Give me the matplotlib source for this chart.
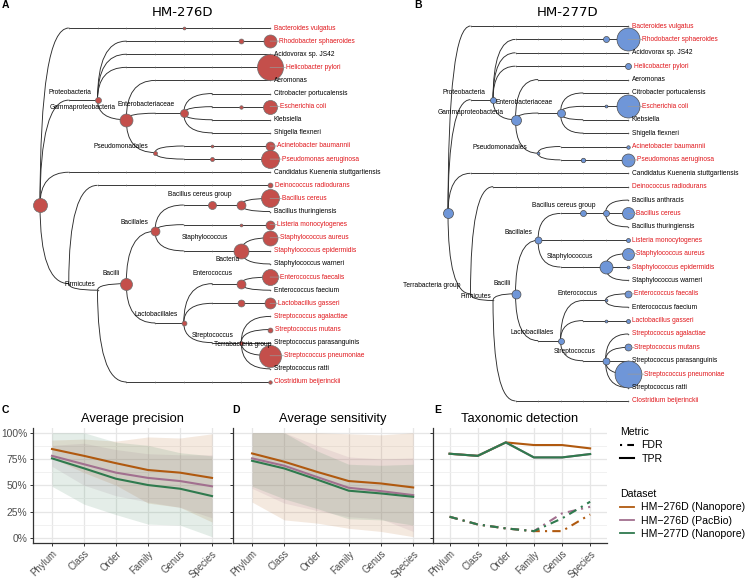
import numpy as np
import matplotlib
matplotlib.use("Agg")
import matplotlib.pyplot as plt
from matplotlib.path import Path
from matplotlib.patches import PathPatch
from matplotlib.lines import Line2D

plt.rcParams['font.family'] = ['Liberation Sans', 'DejaVu Sans']

# ---------------- tree data ----------------
lineage = {
    "Bacteroides vulgatus": ["Bacteria", "FCB group", "Bacteroidetes", "Bacteroidia", "Bacteroidales", "Bacteroidaceae", "Bacteroides", "B. vulgatus"],
    "Rhodobacter sphaeroides": ["Bacteria", "Proteobacteria*", "Proteobacteria", "Alphaproteobacteria", "Rhodobacterales", "Rhodobacteraceae", "Rhodobacter", "R. sphaeroides"],
    "Acidovorax sp. JS42": ["Bacteria", "Proteobacteria*", "Proteobacteria", "Betaproteobacteria", "Burkholderiales", "Comamonadaceae", "Acidovorax", "Acidovorax sp."],
    "Helicobacter pylori": ["Bacteria", "Proteobacteria*", "Proteobacteria", "Epsilonproteobacteria", "Campylobacterales", "Helicobacteraceae", "Helicobacter", "H. pylori"],
    "Aeromonas": ["Bacteria", "Proteobacteria*", "Proteobacteria", "Gammaproteobacteria", "Aeromonadales", "Aeromonadaceae", "Aeromonas*", "Aeromonas**"],
    "Citrobacter portucalensis": ["Bacteria", "Proteobacteria*", "Proteobacteria", "Gammaproteobacteria", "Enterobacterales", "Enterobacteriaceae", "Citrobacter", "C. portucalensis"],
    "Escherichia coli": ["Bacteria", "Proteobacteria*", "Proteobacteria", "Gammaproteobacteria", "Enterobacterales", "Enterobacteriaceae", "Escherichia", "E. coli"],
    "Klebsiella": ["Bacteria", "Proteobacteria*", "Proteobacteria", "Gammaproteobacteria", "Enterobacterales", "Enterobacteriaceae", "Klebsiella*", "Klebsiella**"],
    "Shigella flexneri": ["Bacteria", "Proteobacteria*", "Proteobacteria", "Gammaproteobacteria", "Enterobacterales", "Enterobacteriaceae", "Shigella", "S. flexneri"],
    "Acinetobacter baumannii": ["Bacteria", "Proteobacteria*", "Proteobacteria", "Gammaproteobacteria", "Pseudomonadales", "Moraxellaceae", "Acinetobacter", "A. baumannii"],
    "Pseudomonas aeruginosa": ["Bacteria", "Proteobacteria*", "Proteobacteria", "Gammaproteobacteria", "Pseudomonadales", "Pseudomonadaceae", "Pseudomonas", "P. aeruginosa"],
    "Candidatus Kuenenia stuttgartiensis": ["Bacteria", "PVC group", "Planctomycetes", "Planctomycetia", "Brocadiales", "Brocadiaceae", "Kuenenia", "K. stuttgartiensis"],
    "Deinococcus radiodurans": ["Bacteria", "Terrabacteria group", "Deinococcus-Thermus", "Deinococci", "Deinococcales", "Deinococcaceae", "Deinococcus", "D. radiodurans"],
    "Bacillus anthracis": ["Bacteria", "Terrabacteria group", "Firmicutes", "Bacilli", "Bacillales", "Bacillaceae", "Bacillus", "Bacillus cereus group"],
    "Bacillus cereus": ["Bacteria", "Terrabacteria group", "Firmicutes", "Bacilli", "Bacillales", "Bacillaceae", "Bacillus", "Bacillus cereus group"],
    "Bacillus thuringiensis": ["Bacteria", "Terrabacteria group", "Firmicutes", "Bacilli", "Bacillales", "Bacillaceae", "Bacillus", "Bacillus cereus group"],
    "Listeria monocytogenes": ["Bacteria", "Terrabacteria group", "Firmicutes", "Bacilli", "Bacillales", "Listeriaceae", "Listeria", "L. monocytogenes"],
    "Staphylococcus aureus": ["Bacteria", "Terrabacteria group", "Firmicutes", "Bacilli", "Bacillales", "Staphylococcaceae", "Staphylococcaceae*", "Staphylococcus"],
    "Staphylococcus epidermidis": ["Bacteria", "Terrabacteria group", "Firmicutes", "Bacilli", "Bacillales", "Staphylococcaceae", "Staphylococcaceae*", "Staphylococcus"],
    "Staphylococcus warneri": ["Bacteria", "Terrabacteria group", "Firmicutes", "Bacilli", "Bacillales", "Staphylococcaceae", "Staphylococcaceae*", "Staphylococcus"],
    "Enterococcus faecalis": ["Bacteria", "Terrabacteria group", "Firmicutes", "Bacilli", "Lactobacillales*", "Lactobacillales", "Enterococcaceae", "Enterococcus"],
    "Enterococcus faecium": ["Bacteria", "Terrabacteria group", "Firmicutes", "Bacilli", "Lactobacillales*", "Lactobacillales", "Enterococcaceae", "Enterococcus"],
    "Lactobacillus gasseri": ["Bacteria", "Terrabacteria group", "Firmicutes", "Bacilli", "Lactobacillales*", "Lactobacillales", "Lactobacillus", "L. gasseri"],
    "Streptococcus agalactiae": ["Bacteria", "Terrabacteria group", "Firmicutes", "Bacilli", "Lactobacillales*", "Lactobacillales", "Streptococcaceae", "Streptococcus"],
    "Streptococcus mutans": ["Bacteria", "Terrabacteria group", "Firmicutes", "Bacilli", "Lactobacillales*", "Lactobacillales", "Streptococcaceae", "Streptococcus"],
    "Streptococcus parasanguinis": ["Bacteria", "Terrabacteria group", "Firmicutes", "Bacilli", "Lactobacillales*", "Lactobacillales", "Streptococcaceae", "Streptococcus"],
    "Streptococcus pneumoniae": ["Bacteria", "Terrabacteria group", "Firmicutes", "Bacilli", "Lactobacillales*", "Lactobacillales", "Streptococcaceae", "Streptococcus"],
    "Streptococcus ratti": ["Bacteria", "Terrabacteria group", "Firmicutes", "Bacilli", "Lactobacillales*", "Lactobacillales", "Streptococcaceae", "Streptococcus"],
    "Clostridium beijerinckii": ["Bacteria", "Terrabacteria group", "Firmicutes", "Clostridia", "Clostridiales", "Clostridiaceae", "Clostridium", "C. beijerinckii"],
}

tips_A = ["Bacteroides vulgatus", "Rhodobacter sphaeroides", "Acidovorax sp. JS42", "Helicobacter pylori",
          "Aeromonas", "Citrobacter portucalensis", "Escherichia coli", "Klebsiella", "Shigella flexneri",
          "Acinetobacter baumannii", "Pseudomonas aeruginosa", "Candidatus Kuenenia stuttgartiensis",
          "Deinococcus radiodurans", "Bacillus cereus", "Bacillus thuringiensis", "Listeria monocytogenes",
          "Staphylococcus aureus", "Staphylococcus epidermidis", "Staphylococcus warneri",
          "Enterococcus faecalis", "Enterococcus faecium", "Lactobacillus gasseri",
          "Streptococcus agalactiae", "Streptococcus mutans", "Streptococcus parasanguinis",
          "Streptococcus pneumoniae", "Streptococcus ratti", "Clostridium beijerinckii"]
tips_B = tips_A[:13] + ["Bacillus anthracis"] + tips_A[13:]

in_mock = ["Bacteroides vulgatus", "Rhodobacter sphaeroides", "Helicobacter pylori", "Escherichia coli",
           "Acinetobacter baumannii", "Pseudomonas aeruginosa", "Deinococcus radiodurans", "Bacillus cereus",
           "Listeria monocytogenes", "Staphylococcus aureus", "Staphylococcus epidermidis",
           "Enterococcus faecalis", "Lactobacillus gasseri", "Streptococcus agalactiae",
           "Streptococcus mutans", "Streptococcus pneumoniae", "Clostridium beijerinckii"]

abund_A = {"Bacteria": 49, "Proteobacteria": 9, "Gammaproteobacteria": 42, "Enterobacteriaceae": 16,
           "Pseudomonadales": 4, "R. sphaeroides": 6, "Rhodobacter sphaeroides": 42, "Helicobacter pylori": 169,
           "E. coli": 3, "Escherichia coli": 49, "Acinetobacter": 2, "Acinetobacter baumannii": 20,
           "Pseudomonas": 4, "Pseudomonas aeruginosa": 81, "Bacteroidaceae": 2, "Deinococcus radiodurans": 6,
           "Bacillus": 16, "Bacillus cereus group": 20, "Bacillus cereus": 81, "L. monocytogenes": 2,
           "Listeria monocytogenes": 20, "Bacillales": 20, "Staphylococcus": 56, "Staphylococcus aureus": 56,
           "Bacilli": 36, "Enterococcus": 20, "Enterococcus faecalis": 64, "L. gasseri": 12,
           "Lactobacillus gasseri": 30, "Lactobacillales": 6, "Streptococcus": 4, "Streptococcus mutans": 6,
           "Streptococcus pneumoniae": 121, "Clostridium beijerinckii": 3}
abund_B = {"Bacteria": 25, "Proteobacteria": 9, "Gammaproteobacteria": 25, "Enterobacteriaceae": 16,
           "Pseudomonadales": 2, "R. sphaeroides": 9, "Rhodobacter sphaeroides": 132, "Helicobacter pylori": 9,
           "E. coli": 2, "Escherichia coli": 132, "Acinetobacter baumannii": 3, "Pseudomonas": 5,
           "Pseudomonas aeruginosa": 42, "Bacillus": 9, "Bacillus cereus group": 9, "Bacillus cereus": 36,
           "Listeria monocytogenes": 4, "Bacillales": 12, "Staphylococcus": 42, "Staphylococcus aureus": 36,
           "Staphylococcus epidermidis": 2, "Bacilli": 20, "Enterococcus": 2, "Enterococcus faecalis": 12,
           "L. gasseri": 2, "Lactobacillus gasseri": 4, "Lactobacillales": 9, "Streptococcus": 12,
           "Streptococcus mutans": 12, "Streptococcus pneumoniae": 180}

# internal node labels (offset in pixels from node)
labels_A = {"Proteobacteria": (-28, -8), "Gammaproteobacteria": (-44, -12), "Enterobacteriaceae": (-38, -9),
            "Pseudomonadales": (-34, -6.5), "Bacillus cereus group": (-41, -10), "Bacillales": (-21, -9),
            "Staphylococcus": (-36, -13), "Bacteria": (188, 55), "Bacilli": (-15, -10.5),
            "Enterococcus": (-29, -10), "Firmicutes": (-17.5, -6), "Lactobacillales": (-28, -8),
            "Streptococcus": (-29, -7.5), "Terrabacteria group": (174, 61)}
labels_B = {"Proteobacteria": (-29, -7.6), "Gammaproteobacteria": (-44.5, -7.7), "Enterobacteriaceae": (-36.5, -11),
            "Pseudomonadales": (-38, -6), "Bacillus cereus group": (-41.5, -7.5), "Bacillales": (-20, -8),
            "Staphylococcus": (-35.5, -11), "Terrabacteria group": (-38.5, -8), "Firmicutes": (-17, -3.5),
            "Bacilli": (-13.5, -10), "Enterococcus": (-27.5, -6.5), "Lactobacillales": (-28.5, -7.7),
            "Streptococcus": (-30.5, -9)}

# ---------------- line-plot data ----------------
ranks = ["Phylum", "Class", "Order", "Family", "Genus", "Species"]
datasets = ["HM\u2212276D (Nanopore)", "HM\u2212276D (PacBio)", "HM\u2212277D (Nanopore)"]
colors = ["#B0590F", "#A2708F", "#2F7A4E"]

prec_mean = [[0.845, 0.78, 0.71, 0.645, 0.62, 0.57],
             [0.78, 0.70, 0.62, 0.57, 0.54, 0.49],
             [0.756, 0.661, 0.562, 0.502, 0.467, 0.397]]
prec_lo = [[0.76, 0.62, 0.50, 0.33, 0.29, 0.15],
           [0.68, 0.50, 0.40, 0.34, 0.29, 0.19],
           [0.49, 0.32, 0.22, 0.13, 0.12, 0.01]]
prec_hi = [[0.93, 0.94, 0.92, 0.96, 0.95, 0.99],
           [0.88, 0.90, 0.84, 0.80, 0.79, 0.79],
           [1.00, 1.00, 0.91, 0.88, 0.81, 0.78]]

sens_mean = [[0.803, 0.724, 0.629, 0.54, 0.517, 0.479],
             [0.756, 0.686, 0.58, 0.476, 0.444, 0.406],
             [0.733, 0.66, 0.556, 0.448, 0.422, 0.39]]
sens_lo = [[0.34, 0.17, 0.14, 0.09, 0.06, 0.01],
           [0.47, 0.33, 0.26, 0.20, 0.18, 0.06],
           [0.49, 0.37, 0.28, 0.18, 0.17, 0.12]]
sens_hi = [[1.0, 1.0, 1.0, 0.99, 0.98, 1.0],
           [1.0, 1.0, 0.88, 0.77, 0.75, 0.76],
           [1.0, 1.0, 0.83, 0.70, 0.69, 0.70]]

tpr = [[0.80, 0.78, 0.908, 0.883, 0.883, 0.851],
       [0.80, 0.78, 0.908, 0.765, 0.765, 0.797],
       [0.80, 0.78, 0.908, 0.765, 0.765, 0.797]]
fdr = [[0.20, 0.127, 0.089, 0.063, 0.063, 0.222],
       [0.20, 0.127, 0.089, 0.063, 0.232, 0.295],
       [0.20, 0.127, 0.089, 0.063, 0.184, 0.343]]

# ---------------- figure ----------------
W, H = 749, 581
fig = plt.figure(figsize=(W / 100, H / 100), dpi=100)

TIP_FONT = 4.8


def px_axes(x0, y0, w, h):
    return fig.add_axes([x0 / W, 1 - (y0 + h) / H, w / W, h / H])


def draw_tree(ax, tips, abund, fill, edge, node_labels):
    nodes = {}
    for i, t in enumerate(tips):
        path = lineage[t] + [t]
        for L in range(len(path)):
            nodes.setdefault(tuple(path[:L + 1]), []).append(i)
    pos = {k: (len(k) - 1, float(np.mean(v))) for k, v in nodes.items()}
    # edges
    for k, (xc, yc) in pos.items():
        if len(k) == 1:
            continue
        xp, yp = pos[k[:-1]]
        if abs(yp - yc) < 1e-9:
            verts = [(xp, yp), (xc, yc)]
            codes = [Path.MOVETO, Path.LINETO]
        else:
            verts = [(xp, yp), (xp, yc), (xc, yc)]
            codes = [Path.MOVETO, Path.CURVE3, Path.CURVE3]
        ax.add_patch(PathPatch(Path(verts, codes), fc='none', ec='#2b2b2b', lw=0.65, zorder=1))
    # nodes
    for k, (x, y) in pos.items():
        v = abund.get(k[-1])
        if v is None:
            ax.scatter([x], [y], s=1.2, c='#555555', lw=0, zorder=2)
        else:
            r = np.sqrt(v)
            ax.scatter([x], [y], s=(2 * r * 0.72) ** 2, c=fill, edgecolors=edge, linewidths=0.5, zorder=3)
    # tip labels
    for i, t in enumerate(tips):
        v = abund.get(t)
        r = np.sqrt(v) if v else 1.0
        col = '#E0161B' if t in in_mock else 'black'
        if v and r > 3:
            ax.annotate('', xy=(8, i), xytext=(r + 2.5, 0), textcoords='offset pixels',
                        arrowprops=dict(arrowstyle='-', color='#999999', lw=0.5, shrinkA=0, shrinkB=0), zorder=4)
        ax.annotate(t, xy=(8, i), xytext=(r + 2.5, 0), textcoords='offset pixels',
                    ha='left', va='center', fontsize=TIP_FONT, color=col, zorder=5)
    # internal labels
    for name, (dx, dy) in node_labels.items():
        k = [kk for kk in pos if kk[-1] == name][0]
        ax.annotate(name, xy=pos[k], xytext=(dx, -dy), textcoords='offset pixels',
                    ha='center', va='center', fontsize=TIP_FONT, color='black', zorder=6)
    ax.set_axis_off()


# Tree A
axA = px_axes(0, 0, 375, 400)
axA.set_xlim(-40 / 28.75, (375 - 40) / 28.75)
axA.set_ylim((400 - 28) / 13.11, -28 / 13.11)
draw_tree(axA, tips_A, abund_A, '#C44F4B', '#6e6e6e', labels_A)

# Tree B
axB = px_axes(375, 0, 374, 415)
axB.set_xlim(-73 / 22.5, (374 - 73) / 22.5)
axB.set_ylim((415 - 26) / 13.39, -26 / 13.39)
draw_tree(axB, tips_B, abund_B, '#6F96D8', '#4d4d4d', labels_B)

fig.text(182.5 / W, 1 - 13 / H, "HM-276D", ha='center', va='center', fontsize=9.5, family='DejaVu Sans')
fig.text(568 / W, 1 - 13 / H, "HM-277D", ha='center', va='center', fontsize=9.5, family='DejaVu Sans')

for lab, (x, y) in {"A": (5, 5), "B": (418, 5), "C": (5, 410), "D": (236, 410), "E": (438, 410)}.items():
    fig.text(x / W, 1 - y / H, lab, ha='center', va='center', fontsize=7.5, fontweight='bold')

# ---------------- bottom panels ----------------
xs = np.arange(len(ranks))


def style_axes(ax, show_ylabels):
    ax.set_xlim(-0.6, 5.6)
    ax.set_ylim(-0.05, 1.05)
    ax.set_xticks(xs)
    ax.set_xticklabels(ranks, rotation=45, ha='right', rotation_mode='anchor', fontsize=6.9)
    ax.set_yticks([0, 0.25, 0.5, 0.75, 1.0])
    ax.set_yticks([0.125, 0.375, 0.625, 0.875], minor=True)
    if show_ylabels:
        ax.set_yticklabels(["0%", "25%", "50%", "75%", "100%"])
    else:
        ax.set_yticklabels([])
    ax.grid(which='major', color='#E6E6E6', lw=0.9, zorder=0)
    ax.grid(which='minor', axis='y', color='#EFEFEF', lw=0.6, zorder=0)
    ax.set_axisbelow(True)
    for s in ['top', 'right']:
        ax.spines[s].set_visible(False)
    for s in ['left', 'bottom']:
        ax.spines[s].set_color('#333333')
        ax.spines[s].set_linewidth(0.9)
    ax.tick_params(which='major', length=2.5, width=0.7, color='#333333', labelsize=7.4,
                   labelcolor='#4D4D4D', pad=1.5)
    ax.tick_params(axis='x', labelsize=6.9)
    ax.tick_params(which='minor', length=0)


axC = px_axes(32.8, 427.5, 198.4, 115.5)
axD = px_axes(232.7, 427.5, 199.8, 115.5)
axE = px_axes(432.7, 427.5, 174.3, 115.5)

for ax, mean, lo, hi, title in [(axC, prec_mean, prec_lo, prec_hi, "Average precision"),
                                (axD, sens_mean, sens_lo, sens_hi, "Average sensitivity")]:
    for j in range(3):
        ax.fill_between(xs, lo[j], hi[j], color=colors[j], alpha=0.13, lw=0, zorder=1)
    for j in range(3):
        ax.plot(xs, mean[j], color=colors[j], lw=1.5, zorder=3)
    ax.set_title(title, fontsize=9.3, pad=4)

for j in range(3):
    axE.plot(xs, tpr[j], color=colors[j], lw=1.5, zorder=3)
for j in range(3):
    axE.plot(xs, fdr[j], color=colors[j], lw=1.5, ls=(0, (4, 2.5, 1, 2.5)), zorder=3)
axE.set_title("Taxonomic detection", fontsize=9.3, pad=4)

style_axes(axC, True)
style_axes(axD, False)
style_axes(axE, False)

# legends
h_metric = [Line2D([], [], color='black', lw=1.5, ls=(0, (1, 2.5, 4, 2))),
            Line2D([], [], color='black', lw=1.5)]
leg1 = fig.legend(h_metric, ["FDR", "TPR"], title="Metric", loc='upper left',
                  bbox_to_anchor=(616 / W, 1 - 423 / H), frameon=False, fontsize=7.6,
                  title_fontsize=7.6, handlelength=1.3, handletextpad=0.7, labelspacing=0.3,
                  alignment='left', borderaxespad=0)
h_data = [Line2D([], [], color=c, lw=1.3) for c in colors]
leg2 = fig.legend(h_data, datasets, title="Dataset", loc='upper left',
                  bbox_to_anchor=(616 / W, 1 - 485 / H), frameon=False, fontsize=7.6,
                  title_fontsize=7.6, handlelength=1.3, handletextpad=0.7, labelspacing=0.3,
                  alignment='left', borderaxespad=0)

fig.savefig("out.png", dpi=100)
